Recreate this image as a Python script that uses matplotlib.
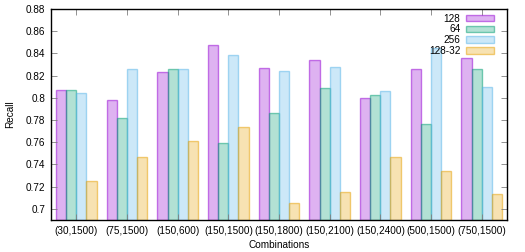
import matplotlib
matplotlib.use("Agg")
import matplotlib.pyplot as plt
import numpy as np

categories = ["(30,1500)", "(75,1500)", "(150,600)", "(150,1500)", "(150,1800)",
              "(150,2100)", "(150,2400)", "(500,1500)", "(750,1500)"]
series_names = ["128", "64", "256", "128-32"]
s128 = [0.807, 0.798, 0.823, 0.848, 0.827, 0.834, 0.800, 0.826, 0.836]
s64 = [0.807, 0.782, 0.826, 0.759, 0.786, 0.809, 0.803, 0.776, 0.826]
s256 = [0.804, 0.826, 0.826, 0.839, 0.824, 0.828, 0.806, 0.845, 0.810]
s128_32 = [0.725, 0.747, 0.761, 0.774, 0.705, 0.715, 0.747, 0.734, 0.713]
yticks = [0.7, 0.72, 0.74, 0.76, 0.78, 0.8, 0.82, 0.84, 0.86, 0.88]

colors = ["#9400d3", "#009e73", "#56b4e9", "#e69f00"]

plt.rcParams['font.family'] = ['Liberation Sans', 'DejaVu Sans']
fig = plt.figure(figsize=(5.25, 2.52), dpi=100)
ax = fig.add_axes([51/525, 32/252, 456/525, 211/252])

x = np.arange(len(categories))
w = 0.2
data = [s128, s64, s256, s128_32]
base = 0.69
for i, (vals, c, name) in enumerate(zip(data, colors, series_names)):
    heights = np.array(vals) - base
    ax.bar(x + (i - 1.5) * w, heights, w, bottom=base,
           facecolor=matplotlib.colors.to_rgba(c, 0.3),
           edgecolor=matplotlib.colors.to_rgba(c, 0.5), linewidth=1.0,
           label=name)

ax.set_xlim(-0.5, len(categories) - 0.5)
ax.set_ylim(0.69, 0.88)
ax.set_yticks(yticks)
ax.set_yticklabels([f"{t:g}" for t in yticks])
ax.set_xticks(x)
ax.set_xticklabels(categories)
ax.tick_params(direction='in', top=True, right=True, labelsize=7.2, length=4,
               width=0.6, color='#808080', pad=4)
for sp in ax.spines.values():
    sp.set_linewidth(1.0)
ax.set_xlabel("Combinations", fontsize=7.2, labelpad=3)
ax.set_ylabel("Recall", fontsize=7.2, labelpad=8)

leg = ax.legend(loc='upper right', bbox_to_anchor=(0.982, 1.0),
                markerfirst=False, frameon=False, fontsize=7.2,
                handlelength=2.8, handleheight=0.6, labelspacing=0.08,
                borderaxespad=0.15, borderpad=0.3, handletextpad=0.6)

fig.savefig("out.png", dpi=100)
